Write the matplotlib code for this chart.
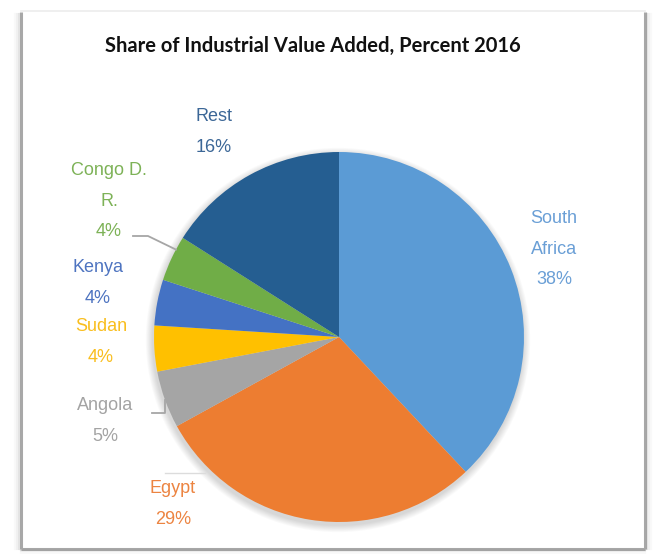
import matplotlib
matplotlib.use("Agg")
import matplotlib.pyplot as plt
from matplotlib.patches import Circle
import numpy as np

# udjeli industrijske dodane vrijednosti, 2016.
zemlje = ["South\nAfrica", "Egypt", "Angola", "Sudan", "Kenya", "Congo D.\nR.", "Rest"]
udjeli = [38, 29, 5, 4, 4, 4, 16]
boje = ["#5B9BD5", "#ED7D31", "#A5A5A5", "#FFC000", "#4472C4", "#70AD47", "#255E91"]
boje_teksta = ["#6A9FD6", "#EC8441", "#A3A3A3", "#F9BE1E", "#4E74C0", "#7DB257", "#3C6797"]

# sredista natpisa (pikseli, y prema dolje)
pozicije = [(554, 249), (173, 504), (105, 421), (101, 342), (98, 283), (109, 201), (214, 132)]

W, H = 660, 554
fig = plt.figure(figsize=(W / 100, H / 100), dpi=100)
ax = fig.add_axes([0, 0, 1, 1])
ax.set_xlim(0, W)
ax.set_ylim(H, 0)  # y raste prema dolje, kao na slici
ax.set_aspect("equal")
ax.axis("off")

# okvir sa sjenom
siva = "#a8a8a8"
ax.plot([21, 21], [12, 549], color=siva, lw=2.2, solid_capstyle="butt")
ax.plot([645, 645], [12, 549], color=siva, lw=2.2, solid_capstyle="butt")
ax.plot([21, 645], [549, 549], color=siva, lw=2.2, solid_capstyle="butt")
ax.plot([21, 645], [11, 11], color="#ececec", lw=1.2)
for d, a in [(2, 0.25), (4, 0.12), (6, 0.05)]:
    ax.plot([21 - d, 21 - d], [14, 549], color="#999999", lw=1.5, alpha=a)
    ax.plot([645 + d, 645 + d], [14, 549], color="#999999", lw=1.5, alpha=a)
    ax.plot([21, 645], [549 + d * 0.6, 549 + d * 0.6], color="#999999", lw=1.5, alpha=a)

cx, cy, r = 339, 337, 185

# meka sjena ispod kruga
for k in range(8, 0, -1):
    ax.add_patch(Circle((cx - 1, cy + 3), r + k * 0.9, color="#000000",
                        alpha=0.018, lw=0, zorder=1))

# y je obrnut pa counterclock=True crta u smjeru kazaljke
wedges, _ = ax.pie(udjeli, colors=boje, startangle=-90, counterclock=True,
                   center=(cx, cy), radius=r, frame=True,
                   wedgeprops=dict(linewidth=0, zorder=2))
ax.set_xlim(0, W)
ax.set_ylim(H, 0)
ax.axis("off")

font = ["Liberation Sans", "DejaVu Sans"]
for ime, u, boja, (x, y) in zip(zemlje, udjeli, boje_teksta, pozicije):
    ax.text(x, y, f"{ime}\n{u}%", color=boja, fontsize=13, family=font,
            ha="center", va="center", multialignment="center", linespacing=2.05,
            zorder=5)


def rub(i, pomak=0.0):
    w = wedges[i]
    th = np.deg2rad((w.theta1 + w.theta2) / 2 + pomak)
    return cx + r * np.cos(th), cy + r * np.sin(th)


# linije do malih isjecaka
lin = "#a6a6a6"
x1, y1 = rub(5, 3)
ax.plot([133, 148, x1], [236, 236, y1], color=lin, lw=1.3, zorder=4)
x2, y2 = rub(2)
ax.plot([152, x2, x2], [413, 413, y2], color=lin, lw=1.3, zorder=4)
ax.plot([165, 205], [473, 473], color="#dcdcdc", lw=1.0, zorder=4)

fig.text(313 / W, 1 - 46 / H, "Share of Industrial Value Added, Percent 2016",
         ha="center", va="center", fontsize=14.5, fontweight="bold",
         family=["Lato", "DejaVu Sans"], color="#111111")

fig.savefig("out.png", dpi=100)
